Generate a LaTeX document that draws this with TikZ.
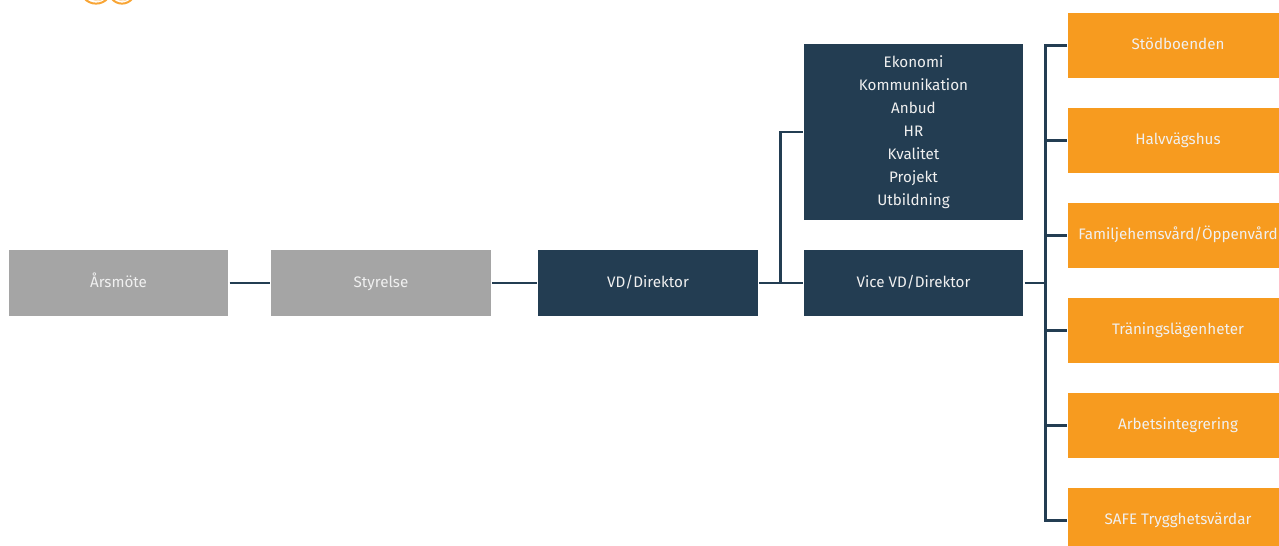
\documentclass[tikz,border=0pt]{standalone}
\usepackage{fontspec}
\setmainfont{Fira Sans}
\definecolor{navy}{HTML}{233D52}
\definecolor{grayb}{HTML}{A5A5A5}
\definecolor{orangeb}{HTML}{F79B1F}
\tikzset{
  x=0.75pt,y=-0.75pt,
  box/.style={rectangle,inner sep=0pt,outer sep=1pt,align=center,text=white!94!black,font=\fontsize{11.4pt}{17.3pt}\selectfont},
  oneline/.style={text height=8.6pt,text depth=2.6pt},
  graybox/.style={box,oneline,fill=grayb,minimum width=164.5pt,minimum height=49pt},
  navybox/.style={box,fill=navy,minimum width=164.5pt,minimum height=49pt},
  orangebox/.style={box,oneline,fill=orangeb,minimum width=164.5pt,minimum height=48.75pt},
  link/.style={draw=navy,line width=2pt}
}
\begin{document}
\begin{tikzpicture}
\useasboundingbox (0,0) rectangle (1279,546);
% logo fragment cut by the top edge
\begin{scope}
\clip (0,0) rectangle (1279,546);
\draw[orangeb!90!white,line width=1.5pt] (84,-2) .. controls (90,5.5) and (102,5.5) .. (108,-2);
\draw[orangeb!90!white,line width=1.5pt] (111,-2) .. controls (117,5.5) and (127,5.5) .. (133,-2);
\draw[orangeb!35!white,line width=0.6pt] (92,-1) .. controls (96,1.5) and (100,1.5) .. (103,-1);
\draw[orangeb!35!white,line width=0.6pt] (117,-1) .. controls (121,1.5) and (125,1.5) .. (128,-1);
\end{scope}

\node[graybox] (arsmote) at (118.5,283) {Årsmöte};
\node[graybox] (styrelse) at (381,283) {Styrelse};
\node[navybox,oneline] (vd) at (648,283) {VD/Direktor};
\node[navybox,oneline] (vice) at (913.5,283) {Vice VD/Direktor};
\node[navybox,minimum height=132.5pt] (stab) at (913.5,132) {Ekonomi\\Kommunikation\\Anbud\\HR\\Kvalitet\\Projekt\\Utbildning};

\node[orangebox] (o1) at (1178,45.5) {Stödboenden};
\node[orangebox] (o2) at (1178,140.5) {Halvvägshus};
\node[orangebox] (o3) at (1178,235.5) {Familjehemsvård/Öppenvård};
\node[orangebox] (o4) at (1178,330.5) {Träningslägenheter};
\node[orangebox] (o5) at (1178,425.5) {Arbetsintegrering};
\node[orangebox] (o6) at (1178,520.5) {SAFE Trygghetsvärdar};

\coordinate (j1) at (780.5,283);
\coordinate (j2) at (1045.5,283);

\draw[link] (arsmote) -- (styrelse);
\draw[link] (styrelse) -- (vd);
\draw[link] (vd) -- (vice);
\draw[link] (j1) |- (stab.west);
\draw[link] (vice) -- (j2);
\draw[link] (o1.west) -| (j2);
\draw[link] (o6.west) -| (j2);
\draw[link] (j2 |- o2.west) -- (o2.west);
\draw[link] (j2 |- o3.west) -- (o3.west);
\draw[link] (j2 |- o4.west) -- (o4.west);
\draw[link] (j2 |- o5.west) -- (o5.west);
\end{tikzpicture}
\end{document}
